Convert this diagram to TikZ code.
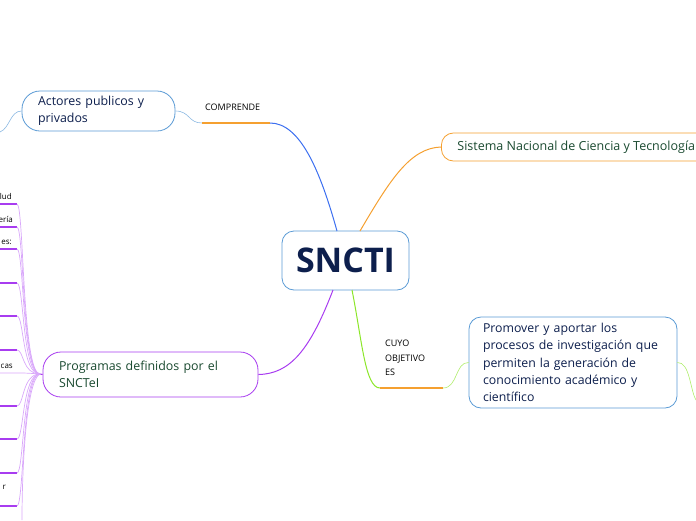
\documentclass[tikz,border=0pt]{standalone}
\usepackage{fontspec}
\setmainfont{Open Sans}
\definecolor{navy}{HTML}{0D1F4D}
\definecolor{dgreen}{HTML}{1A4A30}
\definecolor{bbord}{HTML}{5B9BD5}
\definecolor{purp}{HTML}{A83CF0}
\definecolor{lpurp}{HTML}{D9A8FA}
\definecolor{orng}{HTML}{F5A030}
\definecolor{lgrn}{HTML}{8CE62A}
\definecolor{blu}{HTML}{3C6FF0}
\begin{document}
\begin{tikzpicture}[x=1pt,y=-1pt,
  box/.style={draw=bbord,line width=0.8pt,rounded corners=12pt,fill=white,align=left,inner sep=0pt},
  lbl/.style={font=\fontsize{9}{14.5}\selectfont,align=left,anchor=north west,inner sep=0pt},
  leaf/.style={font=\fontsize{8}{9}\selectfont,anchor=south east,inner sep=1pt}]
\useasboundingbox (0,0) rectangle (696,520);
% boxes
\node[box,minimum width=127pt,minimum height=59pt,align=center,font=\fontsize{34}{38}\selectfont\bfseries\color{navy}] (c) at (345.5,260.5) {SNCTI};
\node[box,rounded corners=18pt,minimum width=153pt,minimum height=40pt,text width=121pt,font=\fontsize{12.4}{17}\selectfont\color{navy}] (a) at (98.5,111) {Actores publicos y\\privados};
\node[box,draw=orng,rounded corners=12pt,minimum height=28pt,anchor=west,font=\fontsize{12.5}{14}\selectfont\color{dgreen},inner xsep=16pt] (s) at (441,147) {Sistema Nacional de Ciencia y Tecnología};
\node[box,minimum width=208pt,minimum height=91pt,text width=180pt,font=\fontsize{12.3}{17.2}\selectfont\color{navy}] (p) at (573,362.5) {Promover y aportar los\\procesos de investigación que\\permiten la generación de\\conocimiento académico y\\científico};
\node[box,draw=purp,rounded corners=18pt,minimum width=215pt,minimum height=45pt,text width=183pt,font=\fontsize{12.4}{17}\selectfont\color{dgreen}] (g) at (150.5,374.5) {Programas definidos por el\\SNCTeI};
% labels
\node[lbl] (lc) at (205,104) {COMPRENDE};
\coordinate (lc1) at (202,123); \coordinate (lc2) at (270,123);
\draw[orng,line width=1.3pt] (lc1) -- (lc2);
\node[lbl] (lo) at (385,340) {CUYO\\OBJETIVO\\ES};
\coordinate (lo1) at (380,388); \coordinate (lo2) at (443,388);
\draw[orng,line width=1.3pt] (lo1) -- (lo2);
% connectors
\draw[blu,line width=1pt] (337,231) .. controls (320,170) and (300,123) .. (lc2);
\draw[bbord!70,line width=0.6pt] (lc1) .. controls (188,123) and (190,111) .. (a.east);
\coordinate (ae) at (0,132);
\draw[bbord!70,line width=0.6pt] (a.west) .. controls (10,111) and (10,128) .. (ae);
\draw[orng,line width=1pt] (360,231) .. controls (390,180) and (410,148) .. (s.west);
\draw[lgrn,line width=1pt] (352,290) .. controls (362,340) and (365,388) .. (lo1);
\draw[lgrn!70,line width=0.6pt] (lo2) .. controls (458,388) and (455,362) .. (p.west);
\coordinate (pe) at (696,400);
\draw[lgrn!70,line width=0.6pt] (p.east) .. controls (690,362) and (690,390) .. (pe);
\draw[purp,line width=1pt] (333,290) .. controls (310,350) and (290,374) .. (g.east);
% leaves
\coordinate (gw) at (40,374);
\draw[purp,line width=1pt] (g.west) -- (gw);
\foreach \y in {204,227,249,283,316,350,406,439,473,506}{
  \draw[purp,line width=1.2pt] (0,\y) -- (17,\y);
  \draw[lpurp,line width=0.7pt] (17,\y) .. controls (24,\y) and (22,374) .. (gw);
}
\draw[lpurp,line width=0.7pt] (0,373) -- (17,373) .. controls (26,373) .. (gw);
\draw[lpurp,line width=0.7pt] (gw) .. controls (26,380) and (22,470) .. (22,520);
\node[leaf] (t1) at (13,201) {lud};
\node[leaf] (t2) at (14,224) {ería};
\node[leaf] (t3) at (13,246) {es:};
\node[leaf] (t4) at (14,370) {cas};
\node[leaf] (t5) at (7,491) {r};
\end{tikzpicture}
\end{document}
